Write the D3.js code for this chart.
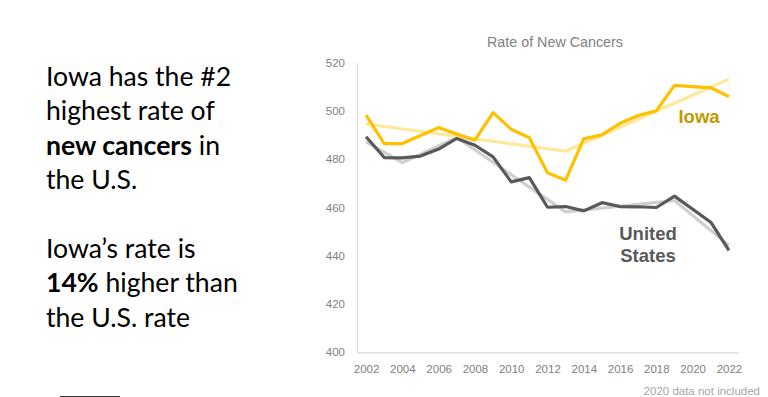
<!DOCTYPE html>
<html>
<head>
<meta charset="utf-8">
<script src="https://cdn.jsdelivr.net/npm/d3@7"></script>
<style>
  body { margin: 0; background: #fff; }
  .lead { font-family: Lato, "Open Sans", sans-serif; font-size: 26.6px; fill: #000; }
  .axis text { font-family: "Liberation Sans", Arial, sans-serif; font-size: 11.5px; fill: #808080; }
</style>
</head>
<body>
<div id="chart"></div>
<script>
// years with data (2020 left out)
var years = [2002, 2003, 2004, 2005, 2006, 2007, 2008, 2009, 2010, 2011, 2012,
             2013, 2014, 2015, 2016, 2017, 2018, 2019, 2021, 2022];
var iowaRate = [498.3, 486.5, 486.5, 489.8, 493.1, 490.5, 487.9, 499.3, 492.4, 488.9, 474.4,
                471.3, 488.5, 490.1, 494.9, 498.1, 500.1, 510.6, 509.6, 506.0];
var usRate = [489.3, 480.7, 480.6, 481.3, 484.2, 488.6, 485.8, 481.0, 470.6, 472.4, 460.1,
              460.4, 458.6, 462.0, 460.4, 460.3, 460.0, 464.7, 453.9, 442.2];

// joinpoint trend lines
var iowaTrendYears = [2002, 2013, 2022];
var iowaTrend = [494.6, 483.3, 513.2];
var usTrendYears = [2002, 2004, 2007, 2013, 2019, 2022];
var usTrend = [487.2, 478.6, 489.0, 458.2, 462.9, 444.3];

var yTicks = [400, 420, 440, 460, 480, 500, 520];
var xTicks = [2002, 2004, 2006, 2008, 2010, 2012, 2014, 2016, 2018, 2020, 2022];

var w = 768, h = 397;

var svg = d3.select("#chart").append("svg")
    .attr("width", w)
    .attr("height", h);

// left text block
var lines = [
  [["Iowa has the #2", false]],
  [["highest rate of", false]],
  [["new cancers", true], [" in", false]],
  [["the U.S.", false]],
  null,
  [["Iowa\u2019s rate is", false]],
  [["14%", true], [" higher than", false]],
  [["the U.S. rate", false]]
];
lines.forEach(function(parts, i) {
  if (!parts) return;
  var t = svg.append("text").attr("class", "lead")
      .attr("x", 46).attr("y", 86 + i * 34.4);
  parts.forEach(function(p) {
    t.append("tspan").attr("font-weight", p[1] ? "bold" : "normal").text(p[0]);
  });
});

svg.append("line")
    .attr("x1", 60).attr("x2", 120).attr("y1", 396.5).attr("y2", 396.5)
    .attr("stroke", "#333").attr("stroke-width", 1);

var xScale = d3.scaleLinear().domain([2001.5, 2022.5]).range([357, 738]);
var yScale = d3.scaleLinear().domain([400, 520]).range([352.3, 62.7]);

svg.append("text")
    .attr("x", 555).attr("y", 47)
    .attr("text-anchor", "middle")
    .attr("font-family", "Liberation Sans, Arial, sans-serif")
    .attr("font-size", 14.3)
    .attr("fill", "#808080")
    .text("Rate of New Cancers");

var yAxis = d3.axisLeft(yScale).tickValues(yTicks).tickSize(0).tickPadding(12);
var gy = svg.append("g").attr("class", "axis")
    .attr("transform", "translate(357,0)")
    .call(yAxis);
gy.select(".domain").attr("stroke", "#d9d9d9").attr("stroke-width", 1.3);

var xAxis = d3.axisBottom(xScale).tickValues(xTicks).tickSize(0).tickPadding(13)
    .tickFormat(d3.format("d"));
var gx = svg.append("g").attr("class", "axis")
    .attr("transform", "translate(0," + yScale(400) + ")")
    .call(xAxis);
gx.select(".domain").attr("stroke", "#d9d9d9").attr("stroke-width", 1.3);

var line = d3.line()
    .x(function(d) { return xScale(d[0]); })
    .y(function(d) { return yScale(d[1]); });

function draw(xs, ys, color) {
  svg.append("path")
      .datum(d3.zip(xs, ys))
      .attr("d", line)
      .attr("fill", "none")
      .attr("stroke", color)
      .attr("stroke-width", 3.2)
      .attr("stroke-linejoin", "round");
}

draw(usTrendYears, usTrend, "#cfcfcf");
draw(iowaTrendYears, iowaTrend, "#ffe89a");
draw(years, usRate, "#595959");
draw(years, iowaRate, "#ffc000");

svg.append("text")
    .attr("x", 699).attr("y", 123)
    .attr("text-anchor", "middle")
    .attr("font-family", "Liberation Sans, Arial, sans-serif")
    .attr("font-size", 18.5).attr("font-weight", "bold")
    .attr("fill", "#c09a00")
    .text("Iowa");

var us = svg.append("text")
    .attr("text-anchor", "middle")
    .attr("font-family", "Liberation Sans, Arial, sans-serif")
    .attr("font-size", 18.5).attr("font-weight", "bold")
    .attr("fill", "#595959");
us.append("tspan").attr("x", 648).attr("y", 240).text("United");
us.append("tspan").attr("x", 648).attr("y", 262).text("States");

svg.append("text")
    .attr("x", 760).attr("y", 395)
    .attr("text-anchor", "end")
    .attr("font-family", "Liberation Sans, Arial, sans-serif")
    .attr("font-size", 11.5)
    .attr("fill", "#a6a6a6")
    .text("2020 data not included");
</script>
</body>
</html>
